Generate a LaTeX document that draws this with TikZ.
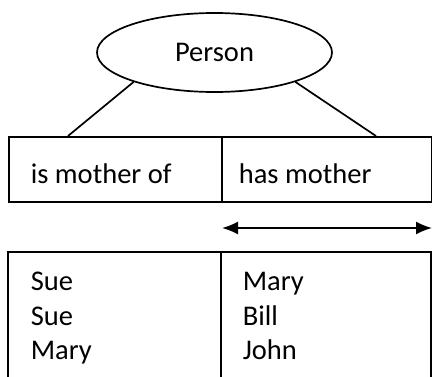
\documentclass[tikz,border=0pt]{standalone}
\usepackage{fontspec}
\setmainfont{Carlito}
\usetikzlibrary{arrows.meta,shapes.geometric}
\begin{document}
\begin{tikzpicture}[x=1pt,y=-1pt,
  line width=1.7pt,
  label/.style={inner sep=0pt,anchor=base west,font=\fontsize{28.5}{34}\selectfont},
  cell/.style={draw,rectangle,inner sep=0pt,anchor=north west},
  tip/.tip={Latex[length=16pt,width=13pt]}]
\useasboundingbox (0,0) rectangle (432,377);

% entity
\node[draw,ellipse,minimum width=235pt,minimum height=79pt,inner sep=0pt,
      font=\fontsize{28.5}{34}\selectfont] (person) at (214.5,52.5) {Person};

% relation header cells
\node[cell,minimum width=213pt,minimum height=65pt] (hl) at (8,136) {};
\node[cell,minimum width=210pt,minimum height=65pt] (hr) at (221,136) {};
\node[label] (isof) at (30,184) {is mother of};
\node[label] (has) at (238,184) {has mother};

% links from the entity to the header
\coordinate (la) at (68,136);
\coordinate (ra) at (376,136);
\draw (person.200) -- (la);
\draw (person.340) -- (ra);

% direction arrow
\coordinate (al) at (222,228);
\coordinate (ar) at (432,228);
\draw[tip-tip] (al) -- (ar);

% data table, open at the bottom
\coordinate (tl) at (8,252);
\coordinate (tm) at (221,252);
\coordinate (tr) at (431,252);
\coordinate (bl) at (8,377);
\coordinate (bm) at (221,377);
\coordinate (br) at (431,377);
\draw (bl) -- (tl) -- (tr) -- (br);
\draw (tm) -- (bm);

\node[label] (a1) at (30,291) {Sue};
\node[label] (a2) at (30,325.5) {Sue};
\node[label] (a3) at (30,360) {Mary};
\node[label] (b1) at (242,291) {Mary};
\node[label] (b2) at (242,325.5) {Bill};
\node[label] (b3) at (242,360) {John};
\end{tikzpicture}
\end{document}
